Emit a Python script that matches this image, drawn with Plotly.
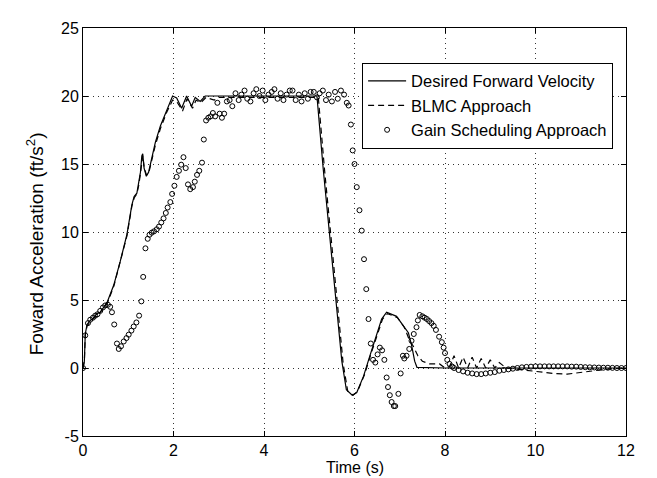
import plotly.graph_objects as go

# ---- Desired forward velocity (solid) ----
t_des = [0, 0.03, 0.05, 0.09, 0.16, 0.24, 0.31, 0.38, 0.53, 0.68, 0.82, 0.97, 1.08, 1.13, 1.19, 1.23,
         1.27, 1.30, 1.32, 1.35, 1.40, 1.45, 1.49, 1.56, 1.6, 1.71, 1.85, 1.98, 2.07, 2.18, 2.29,
         2.40, 2.48, 2.59, 2.70, 3.0, 4.0, 5.0, 5.17, 5.31, 5.46, 5.6, 5.72, 5.82, 5.95, 6.05,
         6.2, 6.35, 6.5, 6.6, 6.71, 6.93, 7.08, 7.19, 7.26, 7.33, 7.38, 8.0, 9.0, 10.0, 11.0, 12.0]
v_des = [0, 0.5, 2.5, 3.2, 3.5, 3.7, 4.0, 4.1, 4.8, 6.1, 7.8, 9.8, 12.0, 12.6, 12.85, 13.5,
         14.4, 15.6, 15.75, 14.7, 14.1, 14.4, 15.0, 15.9, 16.6, 17.8, 19.0, 20.0, 19.85, 19.1, 20.0,
         19.25, 19.9, 19.6, 20.0, 20.0, 20.0, 20.0, 20.0, 14.6, 9.6, 4.8, 0.5, -1.6, -2.0, -1.8,
         -0.6, 1.0, 2.6, 3.6, 4.1, 3.8, 3.1, 2.6, 1.7, 0.5, 0.05, 0, 0, 0, 0, 0]

# ---- BLMC approach (dashed) ----
t_blmc = [0, 0.03, 0.05, 0.09, 0.16, 0.24, 0.31, 0.38, 0.53, 0.68, 0.82, 0.97, 1.08, 1.13, 1.19, 1.23,
          1.27, 1.30, 1.32, 1.35, 1.40, 1.45, 1.49, 1.56, 1.6, 1.71, 1.85, 1.98, 2.07, 2.2, 2.3,
          2.42, 2.5, 2.6, 2.72, 2.9, 3.0, 4.0, 5.0, 5.2, 5.34, 5.49, 5.63, 5.75, 5.85, 5.97, 6.07,
          6.22, 6.37, 6.52, 6.62, 6.73, 6.95, 7.1, 7.22, 7.3, 7.4, 7.5, 7.66, 7.88, 8.0, 8.1, 8.2,
          8.3, 8.4, 8.5, 8.6, 8.7, 8.8, 8.9, 9.0, 9.1, 9.2, 9.35, 9.6, 9.87, 10.1, 10.4, 10.7,
          11.0, 11.3, 11.7, 12.0]
v_blmc = [0, 0.5, 2.4, 3.1, 3.4, 3.7, 3.9, 4.1, 4.7, 6.0, 7.7, 9.7, 11.9, 12.5, 12.8, 13.4,
          14.3, 15.4, 15.6, 14.8, 14.2, 14.3, 14.9, 15.8, 16.4, 17.6, 18.8, 19.7, 19.6, 18.9, 19.8,
          19.1, 19.7, 19.5, 19.9, 19.7, 19.9, 19.9, 19.9, 19.9, 14.5, 9.5, 4.6, 0.3, -1.7, -2.0, -1.7,
          -0.5, 1.1, 2.7, 3.6, 4.0, 3.7, 3.0, 2.0, 1.6, 0.9, 0.5, 0.3, 0.3, 0.0, 0.1, 0.9,
          0.0, 0.8, 0.0, 0.8, 0.0, 0.7, 0.0, 0.6, 0.0, 0.4, 0.0, -0.1, -0.2, -0.3, -0.4, -0.45,
          -0.35, -0.2, -0.05, 0.0]

# ---- Gain scheduling approach (circles) ----
t_gs = [0.0, 0.05, 0.11, 0.16, 0.22, 0.27, 0.32, 0.38, 0.44, 0.49, 0.55, 0.6, 0.64, 0.69, 0.75, 0.79,
        0.84, 0.9, 0.96, 1.01, 1.07, 1.12, 1.18, 1.24, 1.29, 1.33, 1.38, 1.43, 1.47, 1.52, 1.57,
        1.63, 1.68, 1.73, 1.78, 1.83, 1.87, 1.93, 1.97, 2.02, 2.07, 2.12, 2.17, 2.22, 2.27, 2.32,
        2.37, 2.43, 2.47, 2.52, 2.57, 2.63, 2.67, 2.72, 2.77, 2.82, 2.87, 2.92, 2.97, 3.02, 3.07,
        3.12, 3.18, 3.24, 3.3, 3.37, 3.44, 3.5, 3.57, 3.63, 3.7, 3.77, 3.83, 3.9, 3.97, 4.03,
        4.1, 4.17, 4.23, 4.3, 4.37, 4.43, 4.5, 4.57, 4.63, 4.7, 4.77, 4.83, 4.9, 4.97, 5.03,
        5.1, 5.17, 5.23, 5.3, 5.37, 5.43, 5.5, 5.57, 5.63, 5.7, 5.77, 5.83, 5.87, 5.92, 5.96,
        6.0, 6.05, 6.11, 6.16, 6.21, 6.26, 6.31, 6.36, 6.41, 6.46, 6.51, 6.56, 6.61, 6.66, 6.71,
        6.74, 6.78, 6.82, 6.87, 6.9, 6.97, 7.02, 7.07, 7.1, 7.15, 7.21, 7.26, 7.31, 7.37, 7.4,
        7.44, 7.5, 7.55, 7.6, 7.65, 7.7, 7.75, 7.8, 7.87, 7.93, 7.97, 8.0, 8.05, 8.1, 8.16,
        8.2, 8.3, 8.4, 8.5, 8.6, 8.7, 8.8, 8.9, 9.0, 9.1, 9.2, 9.3, 9.4, 9.5, 9.6, 9.7, 9.8,
        9.9, 10.0, 10.1, 10.2, 10.3, 10.4, 10.5, 10.6, 10.7, 10.8, 10.9, 11.0, 11.1, 11.2, 11.3,
        11.4, 11.5, 11.6, 11.7, 11.8, 11.9, 12.0]
v_gs = [0.0, 2.4, 3.3, 3.55, 3.7, 3.85, 3.95, 4.2, 4.45, 4.6, 4.65, 4.5, 4.1, 3.2, 1.8, 1.4,
        1.6, 1.95, 2.2, 2.45, 2.75, 3.05, 3.35, 3.85, 4.9, 6.7, 8.8, 9.5, 9.8, 9.95, 10.05,
        10.2, 10.4, 10.7, 11.0, 11.4, 11.8, 12.2, 12.8, 13.4, 14.05, 14.5, 14.95, 15.5, 14.7, 13.5,
        13.15, 13.3, 13.7, 14.2, 14.5, 15.1, 16.8, 18.2, 18.4, 18.5, 18.75, 18.5, 19.5, 18.7, 18.4,
        18.7, 19.6, 19.7, 19.25, 20.2, 19.7, 20.1, 20.4, 19.8, 19.6, 20.2, 20.5, 20.0, 20.4, 19.7,
        20.1, 20.3, 20.5, 19.8, 20.2, 19.7, 20.1, 20.4, 20.4, 19.7, 20.1, 19.6, 20.2, 19.8, 20.3,
        20.3, 19.9, 20.2, 20.4, 19.7, 20.1, 19.6, 20.3, 19.8, 20.4, 20.1, 19.5, 19.3, 17.9, 16.0,
        15.0, 13.3, 11.6, 10.1, 8.0, 5.8, 3.6, 1.8, 0.6, 0.4, 1.0, 1.5, 1.3, 0.6, -0.7,
        -1.4, -2.0, -2.5, -2.8, -2.8, -1.9, -0.4, 0.9, 0.7, 0.9, 1.4, 2.0, 2.5, 3.0, 3.5,
        3.9, 3.8, 3.7, 3.6, 3.45, 3.3, 3.1, 2.8, 2.3, 1.9, 1.5, 1.1, 0.6, 0.3, 0.1,
        0.0, -0.15, -0.25, -0.35, -0.4, -0.45, -0.45, -0.4, -0.35, -0.3, -0.2, -0.15, -0.1, -0.05, 0.0, 0.05, 0.08,
        0.1, 0.12, 0.12, 0.12, 0.12, 0.12, 0.12, 0.12, 0.12, 0.1, 0.1, 0.08, 0.06, 0.05, 0.04,
        0.03, 0.02, 0.02, 0.01, 0.0, 0.0, 0.0]

x_ticks = [0, 2, 4, 6, 8, 10, 12]
y_ticks = [-5, 0, 5, 10, 15, 20, 25]

FONT = "Liberation Sans, Arial, Helvetica, sans-serif"

fig = go.Figure()
fig.add_trace(go.Scatter(x=t_des, y=v_des, mode="lines", name="Desired Forward Velocity",
                         line=dict(color="black", width=1.2)))
fig.add_trace(go.Scatter(x=t_blmc, y=v_blmc, mode="lines", name="BLMC Approach",
                         line=dict(color="black", width=1.2, dash="6px,4px")))
fig.add_trace(go.Scatter(x=t_gs, y=v_gs, mode="markers", name="Gain Scheduling Approach",
                         marker=dict(symbol="circle-open", size=5, color="black",
                                     line=dict(width=1, color="black"))))

axis_common = dict(showline=True, linecolor="black", linewidth=1, mirror="allticks",
                   ticks="inside", ticklen=5, tickcolor="black", showgrid=True,
                   gridcolor="#333", gridwidth=1, griddash="1px,4px", zeroline=False,
                   tickfont=dict(family=FONT, size=16, color="black"))

fig.update_xaxes(range=[0, 12], tickvals=x_ticks, ticktext=[str(v) for v in x_ticks], **axis_common)
fig.update_yaxes(range=[-5, 25], tickvals=y_ticks, ticktext=[str(v) for v in y_ticks], **axis_common)

fig.update_layout(
    width=657, height=478,
    margin=dict(l=75, r=39, t=14, b=50),
    paper_bgcolor="white", plot_bgcolor="white",
    font=dict(family=FONT, size=16, color="black"),
    showlegend=True,
    legend=dict(x=0.514, y=0.915, xanchor="left", yanchor="top",
                bordercolor="black", borderwidth=1, bgcolor="white",
                font=dict(family=FONT, size=16.5, color="black"),
                tracegroupgap=0, itemwidth=38),
    annotations=[
        dict(text="Time (s)", xref="paper", yref="paper", x=0.5, y=0, yshift=-31,
             xanchor="center", yanchor="middle", showarrow=False,
             font=dict(family=FONT, size=16, color="black")),
        dict(text="Foward Acceleration (ft/s<sup>2</sup>)", xref="paper", yref="paper",
             x=0, xshift=-48, y=0.47, xanchor="center", yanchor="middle", textangle=-90,
             showarrow=False, font=dict(family=FONT, size=19, color="black")),
    ],
)

fig.write_html("out.html")
